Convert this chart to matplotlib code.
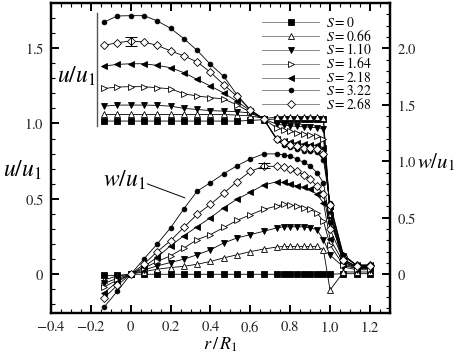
import numpy as np
import matplotlib
matplotlib.use("Agg")
import matplotlib.pyplot as plt
from matplotlib.ticker import MultipleLocator, FuncFormatter

plt.rcParams['font.family'] = ['Liberation Serif', 'DejaVu Serif']
plt.rcParams['mathtext.fontset'] = 'stix'

# radial positions r/R1
r = [-0.133, -0.067, 0.0, 0.067, 0.133, 0.2, 0.267, 0.333, 0.4, 0.467, 0.533, 0.6, 0.667,
     0.733, 0.767, 0.8, 0.833, 0.867, 0.9, 0.933, 0.967, 1.0, 1.067, 1.133, 1.2]

labels = ['$S = 0$', '$S = 0.66$', '$S = 1.10$', '$S = 1.64$', '$S = 2.18$', '$S = 3.22$', '$S = 2.68$']

# axial velocity u/u1 (left axis)
u_s000 = [1.016, 1.016, 1.016, 1.016, 1.016, 1.016, 1.016, 1.016, 1.016, 1.016, 1.016, 1.02, 1.025,
          1.03, 1.03, 1.03, 1.03, 1.03, 1.03, 1.03, 1.03, 0.39, 0.07, 0.04, 0.04]
u_s066 = [1.06, 1.06, 1.06, 1.06, 1.06, 1.06, 1.06, 1.06, 1.06, 1.06, 1.055, 1.05, 1.035,
          1.04, 1.04, 1.04, 1.04, 1.04, 1.04, 1.04, 1.035, 0.40, 0.08, 0.045, 0.045]
u_s110 = [1.115, 1.122, 1.122, 1.122, 1.12, 1.115, 1.10, 1.093, 1.085, 1.082, 1.078, 1.07, 1.03,
          0.995, 0.99, 0.985, 0.98, 0.978, 0.975, 0.972, 0.965, 0.42, 0.09, 0.05, 0.05]
u_s164 = [1.232, 1.242, 1.244, 1.244, 1.237, 1.23, 1.197, 1.182, 1.172, 1.162, 1.124, 1.075, 1.03,
          0.97, 0.958, 0.947, 0.94, 0.932, 0.925, 0.918, 0.90, 0.43, 0.10, 0.05, 0.05]
u_s218 = [1.381, 1.392, 1.396, 1.396, 1.385, 1.37, 1.337, 1.292, 1.248, 1.202, 1.146, 1.085, 1.03,
          0.90, 0.885, 0.875, 0.868, 0.862, 0.858, 0.855, 0.84, 0.45, 0.12, 0.06, 0.06]
u_s322 = [1.673, 1.713, 1.715, 1.715, 1.68, 1.631, 1.562, 1.485, 1.392, 1.312, 1.19, 1.09, 1.03,
          0.89, 0.86, 0.845, 0.83, 0.82, 0.815, 0.81, 0.76, 0.47, 0.13, 0.06, 0.06]
u_s268 = [1.518, 1.536, 1.547, 1.54, 1.518, 1.481, 1.448, 1.408, 1.34, 1.257, 1.18, 1.09, 1.03,
          0.895, 0.875, 0.86, 0.85, 0.84, 0.835, 0.83, 0.80, 0.46, 0.12, 0.06, 0.06]

# swirl velocity w/u1 (right axis)
w_s000 = [-0.01, -0.01, 0, 0, 0, 0, 0, 0, 0, 0, 0, 0, 0,
          0, 0, 0, 0, 0, 0, 0, 0, 0, 0.005, 0.005, 0.005]
w_s066 = [-0.05, -0.015, 0, 0.023, 0.045, 0.059, 0.07, 0.089, 0.113, 0.145, 0.172, 0.20, 0.223,
          0.241, 0.246, 0.246, 0.246, 0.246, 0.246, 0.246, 0.217, -0.14, 0.02, 0.02, 0.02]
w_s110 = [-0.08, -0.036, 0, 0.038, 0.074, 0.104, 0.134, 0.172, 0.217, 0.277, 0.321, 0.351, 0.38,
          0.41, 0.42, 0.42, 0.42, 0.42, 0.41, 0.396, 0.306, 0.17, 0.065, 0.04, 0.04]
w_s164 = [-0.111, -0.051, 0, 0.054, 0.113, 0.163, 0.232, 0.306, 0.351, 0.414, 0.476, 0.526, 0.574,
          0.604, 0.619, 0.613, 0.604, 0.589, 0.574, 0.545, 0.47, 0.26, 0.08, 0.05, 0.05]
w_s218 = [-0.163, -0.066, 0, 0.068, 0.151, 0.253, 0.341, 0.421, 0.50, 0.589, 0.664, 0.725, 0.79,
          0.818, 0.812, 0.798, 0.783, 0.768, 0.753, 0.708, 0.634, 0.31, 0.11, 0.06, 0.06]
w_s322 = [-0.289, -0.149, 0, 0.137, 0.268, 0.411, 0.58, 0.735, 0.81, 0.89, 0.96, 1.02, 1.065,
          1.065, 1.056, 1.045, 1.02, 0.99, 0.96, 0.90, 0.81, 0.46, 0.17, 0.08, 0.08]
w_s268 = [-0.209, -0.096, 0, 0.09, 0.20, 0.297, 0.416, 0.529, 0.619, 0.717, 0.82, 0.91, 0.955,
          0.955, 0.946, 0.931, 0.91, 0.878, 0.842, 0.782, 0.71, 0.40, 0.13, 0.07, 0.07]

u_all = [u_s000, u_s066, u_s110, u_s164, u_s218, u_s322, u_s268]
w_all = [w_s000, w_s066, w_s110, w_s164, w_s218, w_s322, w_s268]

# marker style per swirl number: (marker, size, filled)
styles = [('s', 3.8, True), ('^', 4.6, False), ('v', 4.4, True), ('>', 4.4, False),
          ('<', 4.4, True), ('o', 3.4, True), ('D', 4.4, False)]

# error bars (S = 2.68)
err_u_r, err_u_v, err_u_e = 0.0, 1.545, 0.03
err_w_r, err_w_v, err_w_e = 0.667, 0.96, 0.022

fig = plt.figure(figsize=(4.57, 3.53), dpi=100)
ax = fig.add_axes([0.1116, 0.1142, 0.7414, 0.8773])
ax2 = ax.twinx()

lw = 0.6
for uu, ww, (m, ms, filled), lab in zip(u_all, w_all, styles, labels):
    fc = 'black' if filled else 'white'
    ax.plot(r, uu, color='black', lw=lw, marker=m, ms=ms, mfc=fc, mec='black', mew=0.6, label=lab)
    ax2.plot(r, ww, color='black', lw=lw, marker=m, ms=ms, mfc=fc, mec='black', mew=0.6)

ax.errorbar([err_u_r], [err_u_v], yerr=[err_u_e], fmt='none', ecolor='black', elinewidth=0.7, capsize=4, capthick=0.7)
ax2.errorbar([err_w_r], [err_w_v], yerr=[err_w_e], fmt='none', ecolor='black', elinewidth=0.7, capsize=4, capthick=0.7)

ax.set_xlim(-0.4, 1.3)
ax.set_ylim(-0.255, 1.799)
ax2.set_ylim(-0.34, 2.40)

ax.xaxis.set_major_locator(MultipleLocator(0.2))
ax.xaxis.set_minor_locator(MultipleLocator(0.05))
ax.yaxis.set_major_locator(MultipleLocator(0.5))
ax.yaxis.set_minor_locator(MultipleLocator(0.1))
ax2.yaxis.set_major_locator(MultipleLocator(0.5))
ax2.yaxis.set_minor_locator(MultipleLocator(0.1))

def fmt(v, pos):
    if abs(v) < 1e-9:
        return r'$\mathrm{0}$'
    return r'$\mathrm{%.1f}$' % v

ax.xaxis.set_major_formatter(FuncFormatter(fmt))
ax.yaxis.set_major_formatter(FuncFormatter(fmt))
ax2.yaxis.set_major_formatter(FuncFormatter(fmt))

ax.tick_params(which='both', direction='in', top=True, right=False, labelsize=10.5, labelcolor='#222222')
ax.tick_params(which='major', length=6, width=1.4)
ax.tick_params(which='minor', length=3, width=0.8)
ax2.tick_params(which='both', direction='in', labelsize=10.5, labelcolor='#222222')
ax2.tick_params(which='major', length=6, width=1.4)
ax2.tick_params(which='minor', length=3, width=0.8)
ax.tick_params(axis='x', pad=5)
ax.tick_params(axis='y', pad=5)
ax2.tick_params(axis='y', pad=5)

for a in (ax, ax2):
    for s in a.spines.values():
        s.set_linewidth(1.6)

ax.set_xlabel(r'$r\,/\,R_1$', fontsize=13, labelpad=1)
fig.text(0.048, 0.518, r'$u/u_1$', fontsize=17, ha='center', va='center')
fig.text(0.913, 0.541, r'$w/u_1$', fontsize=15, ha='left', va='center')

# inner labels
ax.plot([-0.17, -0.17], [0.98, 1.73], color='#555555', lw=1.0)
ax.text(-0.275, 1.31, r'$u/u_1$', fontsize=17, ha='center', va='center')
ax.text(-0.03, 0.626, r'$w/u_1$', fontsize=17, ha='center', va='center')
ax.annotate('', xy=(0.285, 0.50), xytext=(0.07, 0.606),
            arrowprops=dict(arrowstyle='-', color='black', lw=0.7))

leg = ax.legend(loc='upper right', bbox_to_anchor=(0.975, 0.99), frameon=False, fontsize=9.8,
                handlelength=4.2, labelspacing=-0.08, handletextpad=0.5, borderpad=0.2)
for h in leg.legend_handles:
    h.set_color('#777777')
    h.set_markeredgecolor('black')

fig.savefig('out.png', dpi=100)
